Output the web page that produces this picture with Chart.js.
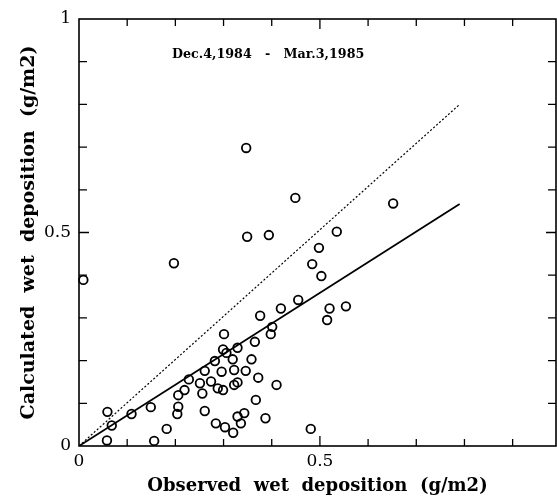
<!DOCTYPE html>
<html>
<head>
<meta charset="utf-8">
<script src="https://cdn.jsdelivr.net/npm/chart.js@4.4.1/dist/chart.umd.min.js"></script>
<style>
  html, body { margin: 0; padding: 0; background: #fff; }
</style>
</head>
<body>
<canvas id="myChart" width="557" height="498"></canvas>
<script>
// observed (x) vs calculated (y) wet deposition, g/m2
const observed = [
  0.009, 0.058, 0.059, 0.068, 0.109, 0.149, 0.156, 0.182, 0.197, 0.204,
  0.206, 0.206, 0.219, 0.228, 0.251, 0.256, 0.261, 0.261, 0.274, 0.282,
  0.284, 0.288, 0.296, 0.299, 0.299, 0.301, 0.303, 0.306, 0.319, 0.320,
  0.322, 0.322, 0.329, 0.329, 0.329, 0.336, 0.343, 0.346, 0.347, 0.349,
  0.358, 0.365, 0.367, 0.372, 0.376, 0.387, 0.394, 0.398, 0.401, 0.410,
  0.419, 0.449, 0.455, 0.481, 0.484, 0.498, 0.503, 0.515, 0.520, 0.535,
  0.554, 0.652
];
const calculated = [
  0.389, 0.013, 0.080, 0.048, 0.075, 0.091, 0.012, 0.040, 0.428, 0.075,
  0.092, 0.119, 0.131, 0.156, 0.147, 0.123, 0.176, 0.082, 0.151, 0.199,
  0.053, 0.135, 0.174, 0.131, 0.226, 0.262, 0.044, 0.218, 0.203, 0.031,
  0.178, 0.143, 0.149, 0.230, 0.069, 0.053, 0.077, 0.176, 0.698, 0.490,
  0.203, 0.244, 0.108, 0.160, 0.305, 0.065, 0.494, 0.262, 0.279, 0.143,
  0.322, 0.581, 0.342, 0.040, 0.426, 0.464, 0.398, 0.295, 0.322, 0.502,
  0.327, 0.568
];

// 1:1 line (dotted) and regression line (solid)
const oneToOneX = [0, 0.79];
const oneToOneY = [0, 0.80];
const fitX = [0, 0.79];
const fitY = [0, 0.567];

const xTickLabels = [0, 0.5];
const yTickLabels = [0, 0.5, 1];
const minorStep = 0.1;

const periodLabel = "Dec.4,1984   -   Mar.3,1985";

const toPoints = (xs, ys) => xs.map((x, i) => ({ x: x, y: ys[i] }));

const tickFont = { family: "'DejaVu Serif'", size: 17 };

// frame with inward ticks on all four sides, plus the period label
const framePlugin = {
  id: "frame",
  afterDatasetsDraw(chart) {
    const { ctx, chartArea: a } = chart;
    const xs = chart.scales.x;
    const ys = chart.scales.y;
    ctx.save();
    ctx.strokeStyle = "#000";
    ctx.lineWidth = 1.6;
    ctx.strokeRect(a.left, a.top, a.right - a.left, a.bottom - a.top);

    ctx.lineWidth = 1.3;
    ctx.beginPath();
    for (let i = 1; i * minorStep < xs.max - 1e-6; i++) {
      const v = i * minorStep;
      const len = Math.abs(v - 0.5) < 1e-6 ? 10 : 7;
      const px = xs.getPixelForValue(v);
      ctx.moveTo(px, a.bottom);
      ctx.lineTo(px, a.bottom - len);
      ctx.moveTo(px, a.top);
      ctx.lineTo(px, a.top + len);
    }
    for (let i = 1; i * minorStep < ys.max - 1e-6; i++) {
      const v = i * minorStep;
      const len = Math.abs(v - 0.5) < 1e-6 ? 10 : 8;
      const py = ys.getPixelForValue(v);
      ctx.moveTo(a.left, py);
      ctx.lineTo(a.left + len, py);
      ctx.moveTo(a.right, py);
      ctx.lineTo(a.right - len, py);
    }
    ctx.stroke();

    ctx.fillStyle = "#000";
    ctx.font = "bold 12.7px 'DejaVu Serif'";
    ctx.textBaseline = "middle";
    ctx.fillText(periodLabel, a.left + 93, a.top + 36);
    ctx.restore();
  }
};

const ctx = document.getElementById("myChart").getContext("2d");
const myChart = new Chart(ctx, {
  type: "scatter",
  data: {
    datasets: [
      {
        type: "line",
        data: toPoints(oneToOneX, oneToOneY),
        borderColor: "#000",
        borderWidth: 1.2,
        borderDash: [2, 2],
        pointRadius: 0,
        fill: false,
        tension: 0,
      },
      {
        type: "line",
        data: toPoints(fitX, fitY),
        borderColor: "#000",
        borderWidth: 1.8,
        pointRadius: 0,
        fill: false,
        tension: 0,
      },
      {
        data: toPoints(observed, calculated),
        pointStyle: "circle",
        pointRadius: 4.3,
        borderWidth: 1.8,
        borderColor: "#000",
        backgroundColor: "rgba(0,0,0,0)",
        clip: false,
      },
    ],
  },
  options: {
    responsive: false,
    animation: false,
    layout: { autoPadding: false, padding: { left: 0, right: 1, top: 19, bottom: 0 } },
    plugins: {
      legend: { display: false },
      tooltip: { enabled: false },
    },
    scales: {
      x: {
        type: "linear",
        min: 0,
        max: 0.99,
        afterBuildTicks: (s) => { s.ticks = xTickLabels.map((v) => ({ value: v })); },
        afterFit: (s) => { s.height = 52; },
        grid: { display: false, drawTicks: false },
        border: { display: false },
        ticks: {
          padding: 5,
          color: "#000",
          font: tickFont,
          maxRotation: 0,
          callback: (v) => String(v),
        },
        title: {
          display: true,
          text: "Observed  wet  deposition  (g/m2)",
          color: "#000",
          font: { family: "'DejaVu Serif'", size: 18, weight: "bold" },
          padding: { top: 0, bottom: 1 },
        },
      },
      y: {
        type: "linear",
        min: 0,
        max: 1,
        afterBuildTicks: (s) => { s.ticks = yTickLabels.map((v) => ({ value: v })); },
        afterFit: (s) => { s.width = 79; },
        grid: { display: false, drawTicks: false },
        border: { display: false },
        ticks: {
          padding: 8,
          color: "#000",
          font: tickFont,
          callback: (v) => String(v),
        },
        title: {
          display: true,
          text: "Calculated  wet  deposition  (g/m2)",
          color: "#000",
          font: { family: "'DejaVu Serif'", size: 19, weight: "bold" },
          padding: { top: 18, bottom: 0 },
        },
      },
    },
  },
  plugins: [framePlugin],
});
</script>
</body>
</html>
